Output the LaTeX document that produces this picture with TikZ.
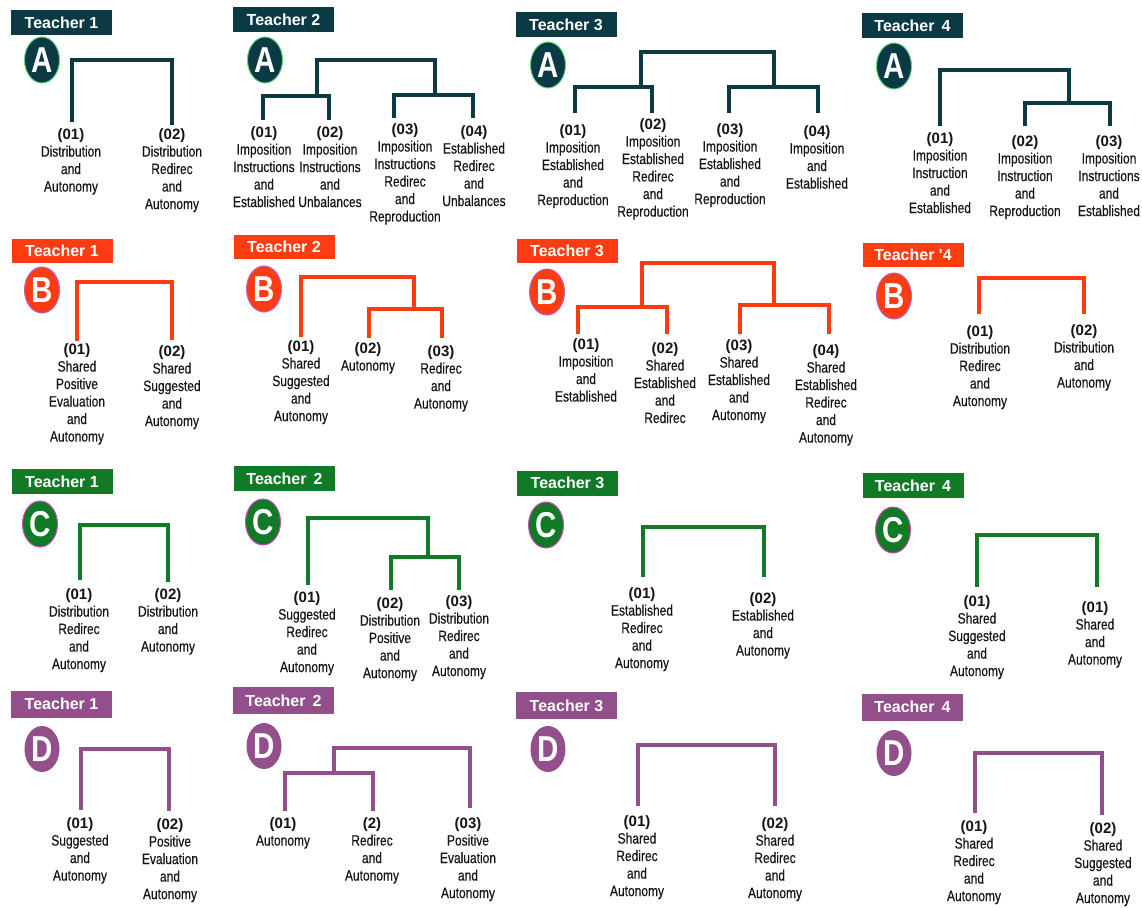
\documentclass[tikz,border=0pt]{standalone}
\usepackage{fontspec}
\setmainfont{Liberation Sans}
\newfontfamily\narrowfam[FakeStretch=0.8,FakeBold=0.35]{Liberation Sans}
\newfontfamily\badgefam[FakeStretch=0.82]{Liberation Sans}
\usetikzlibrary{shapes.geometric}
\definecolor{cA}{HTML}{0B3944}
\definecolor{cB}{HTML}{FF3B12}
\definecolor{cC}{HTML}{117A27}
\definecolor{cD}{HTML}{924F8B}
\definecolor{oA}{HTML}{5FD37A}
\definecolor{oB}{HTML}{B860C8}
\definecolor{oC}{HTML}{D048C0}
\definecolor{txt}{HTML}{151515}
\newcommand\mkleaf[5]{\node[leaf] (#1) at (#2,#3) {{\normalfont\bfseries #4}\\#5};}
\begin{document}
\begin{tikzpicture}[x=1pt,y=-1pt,
  tlabel/.style={rectangle, fill=#1, text=white, inner sep=0pt,
    minimum width=101pt, minimum height=25pt,
    font=\bfseries\fontsize{16}{16}\selectfont},
  badge/.style={ellipse, fill=#1, inner sep=0pt, minimum width=35pt, minimum height=46pt,
    text=white, font=\badgefam\bfseries\fontsize{36}{36}\selectfont},
  leaf/.style={anchor=north, align=center, inner sep=0pt, text=txt,
    font=\narrowfam\fontsize{15}{17.5}\selectfont},
  tA/.style={draw=cA, line width=3.6pt, line join=miter},
  tB/.style={draw=cB, line width=3.1pt, line join=miter},
  tC/.style={draw=cC, line width=3.6pt, line join=miter},
  tD/.style={draw=cD, line width=3.3pt, line join=miter}]
\useasboundingbox (0,0) rectangle (1142,907);
\fill[white] (0,0) rectangle (1142,907);

% ================= ROW A =================
\node[tlabel=cA] (LA1) at (61.5,23) {Teacher 1};
\node[tlabel=cA] (LA2) at (283.5,19.5) {Teacher 2};
\node[tlabel=cA] (LA3) at (566,24.5) {Teacher 3};
\node[tlabel=cA] (LA4) at (912.5,26) {Teacher \,4};
\node[badge=cA, draw=oA, line width=1pt] (BA1) at (42,60) {A};
\node[badge=cA, draw=oA, line width=1pt] (BA2) at (265,60) {A};
\node[badge=cA, draw=oA, line width=1pt] (BA3) at (548,65) {A};
\node[badge=cA, draw=oA, line width=1pt] (BA4) at (894,66) {A};

% T1A
\mkleaf{A1a}{71}{128}{(01)}{Distribution\\and\\Autonomy}
\mkleaf{A1b}{172}{128}{(02)}{Distribution\\Redirec\\and\\Autonomy}
\coordinate (A1e1) at (72,122); \coordinate (A1e2) at (172,125);
\coordinate (A1t) at (122,60);
\draw[tA] (A1e1) |- (A1t) -| (A1e2);

% T2A
\mkleaf{A2a}{264}{126}{(01)}{Imposition\\Instructions\\and\\Established}
\mkleaf{A2b}{330}{126}{(02)}{Imposition\\Instructions\\and\\Unbalances}
\mkleaf{A2c}{405}{123}{(03)}{Imposition\\Instructions\\Redirec\\and\\Reproduction}
\mkleaf{A2d}{474}{125}{(04)}{Established\\Redirec\\and\\Unbalances}
\coordinate (A2e1) at (263,120); \coordinate (A2e2) at (329,120);
\coordinate (A2e3) at (394,118); \coordinate (A2e4) at (473,118);
\coordinate (A2s1) at (317,96); \coordinate (A2s2) at (435,95);
\coordinate (A2t) at (376,60);
\draw[tA] (A2e1) |- (A2s1) -| (A2e2);
\draw[tA] (A2e3) |- (A2s2) -| (A2e4);
\draw[tA] (A2s1) |- (A2t) -| (A2s2);

% T3A
\mkleaf{A3a}{573}{124}{(01)}{Imposition\\Established\\and\\Reproduction}
\mkleaf{A3b}{653}{118}{(02)}{Imposition\\Established\\Redirec\\and\\Reproduction}
\mkleaf{A3c}{730}{123}{(03)}{Imposition\\Established\\and\\Reproduction}
\mkleaf{A3d}{817}{125}{(04)}{Imposition\\and\\Established}
\coordinate (A3e1) at (575,113); \coordinate (A3e2) at (652,113);
\coordinate (A3e3) at (729,113); \coordinate (A3e4) at (818,113);
\coordinate (A3s1) at (641,87); \coordinate (A3s2) at (774,87);
\coordinate (A3t) at (707,52);
\draw[tA] (A3e1) |- (A3s1) -| (A3e2);
\draw[tA] (A3e3) |- (A3s2) -| (A3e4);
\draw[tA] (A3s1) |- (A3t) -| (A3s2);

% T4A
\mkleaf{A4a}{940}{132}{(01)}{Imposition\\Instruction\\and\\Established}
\mkleaf{A4b}{1025}{135}{(02)}{Imposition\\Instruction\\and\\Reproduction}
\mkleaf{A4c}{1109}{135}{(03)}{Imposition\\Instructions\\and\\Established}
\coordinate (A4e1) at (940,126); \coordinate (A4e2) at (1025,126);
\coordinate (A4e3) at (1110,126);
\coordinate (A4s) at (1069,103); \coordinate (A4t) at (1005,70);
\draw[tA] (A4e2) |- (A4s) -| (A4e3);
\draw[tA] (A4e1) |- (A4t) -| (A4s);

% ================= ROW B =================
\node[tlabel=cB, minimum height=24pt] (LB1) at (62,250.5) {Teacher 1};
\node[tlabel=cB, minimum height=24pt] (LB2) at (284,246.5) {Teacher 2};
\node[tlabel=cB, minimum height=24pt] (LB3) at (567,250.5) {Teacher 3};
\node[tlabel=cB, minimum height=24pt] (LB4) at (913,254.5) {Teacher \textquotesingle4};
\node[badge=cB, draw=oB, line width=1pt] (BB1) at (42,290) {B};
\node[badge=cB, draw=oB, line width=1pt] (BB2) at (264,289) {B};
\node[badge=cB, draw=oB, line width=1pt] (BB3) at (547,292) {B};
\node[badge=cB, draw=oB, line width=1pt] (BB4) at (894,296) {B};

% T1B
\mkleaf{B1a}{77}{343}{(01)}{Shared\\Positive\\Evaluation\\and\\Autonomy}
\mkleaf{B1b}{172}{345}{(02)}{Shared\\Suggested\\and\\Autonomy}
\coordinate (B1e1) at (77,341); \coordinate (B1e2) at (172,340);
\coordinate (B1t) at (125,282);
\draw[tB] (B1e1) |- (B1t) -| (B1e2);

% T2B
\mkleaf{B2a}{301}{340}{(01)}{Shared\\Suggested\\and\\Autonomy}
\mkleaf{B2b}{368}{342}{(02)}{Autonomy}
\mkleaf{B2c}{441}{345}{(03)}{Redirec\\and\\Autonomy}
\coordinate (B2e1) at (301,337); \coordinate (B2e2) at (369,338);
\coordinate (B2e3) at (442,338);
\coordinate (B2s) at (414,309); \coordinate (B2t) at (358,277);
\draw[tB] (B2e2) |- (B2s) -| (B2e3);
\draw[tB] (B2e1) |- (B2t) -| (B2s);

% T3B
\mkleaf{B3a}{586}{338}{(01)}{Imposition\\and\\Established}
\mkleaf{B3b}{665}{342}{(02)}{Shared\\Established\\and\\Redirec}
\mkleaf{B3c}{739}{339}{(03)}{Shared\\Established\\and\\Autonomy}
\mkleaf{B3d}{826}{344}{(04)}{Shared\\Established\\Redirec\\and\\Autonomy}
\coordinate (B3e1) at (578,334); \coordinate (B3e2) at (667,334);
\coordinate (B3e3) at (740,334); \coordinate (B3e4) at (829,334);
\coordinate (B3s1) at (642,307); \coordinate (B3s2) at (774,305);
\coordinate (B3t) at (708,263);
\draw[tB] (B3e1) |- (B3s1) -| (B3e2);
\draw[tB] (B3e3) |- (B3s2) -| (B3e4);
\draw[tB, line width=4pt] (B3s1) |- (B3t) -| (B3s2);

% T4B
\mkleaf{B4a}{980}{325}{(01)}{Distribution\\Redirec\\and\\Autonomy}
\mkleaf{B4b}{1084}{324}{(02)}{Distribution\\and\\Autonomy}
\coordinate (B4e1) at (979,314); \coordinate (B4e2) at (1084,314);
\coordinate (B4t) at (1031,278);
\draw[tB] (B4e1) |- (B4t) -| (B4e2);

% ================= ROW C =================
\node[tlabel=cC] (LC1) at (62,481.5) {Teacher 1};
\node[tlabel=cC] (LC2) at (284.5,478.5) {Teacher \,2};
\node[tlabel=cC] (LC3) at (567.5,483) {Teacher 3};
\node[tlabel=cC] (LC4) at (913,485.5) {Teacher \,4};
\node[badge=cC, draw=oC, line width=1pt] (BC1) at (40,524) {C};
\node[badge=cC, draw=oC, line width=1pt] (BC2) at (263,522) {C};
\node[badge=cC, draw=oC, line width=1pt] (BC3) at (546,525) {C};
\node[badge=cC, draw=oC, line width=1pt] (BC4) at (893,530) {C};

% T1C
\mkleaf{C1a}{79}{588}{(01)}{Distribution\\Redirec\\and\\Autonomy}
\mkleaf{C1b}{168}{588}{(02)}{Distribution\\and\\Autonomy}
\coordinate (C1e1) at (80,580); \coordinate (C1e2) at (168,582);
\coordinate (C1t) at (124,525);
\draw[tC] (C1e1) |- (C1t) -| (C1e2);

% T2C
\mkleaf{C2a}{307}{591}{(01)}{Suggested\\Redirec\\and\\Autonomy}
\mkleaf{C2b}{390}{597}{(02)}{Distribution\\Positive\\and\\Autonomy}
\mkleaf{C2c}{459}{595}{(03)}{Distribution\\Redirec\\and\\Autonomy}
\coordinate (C2e1) at (308,585); \coordinate (C2e2) at (391,590);
\coordinate (C2e3) at (459,590);
\coordinate (C2s) at (428,557); \coordinate (C2t) at (368,518);
\draw[tC] (C2e2) |- (C2s) -| (C2e3);
\draw[tC] (C2e1) |- (C2t) -| (C2s);

% T3C
\mkleaf{C3a}{642}{587}{(01)}{Established\\Redirec\\and\\Autonomy}
\mkleaf{C3b}{763}{592}{(02)}{Established\\and\\Autonomy}
\coordinate (C3e1) at (643,577); \coordinate (C3e2) at (764,577);
\coordinate (C3t) at (703,527);
\draw[tC] (C3e1) |- (C3t) -| (C3e2);

% T4C
\mkleaf{C4a}{977}{595}{(01)}{Shared\\Suggested\\and\\Autonomy}
\mkleaf{C4b}{1095}{601}{(01)}{Shared\\and\\Autonomy}
\coordinate (C4e1) at (977,587); \coordinate (C4e2) at (1097,587);
\coordinate (C4t) at (1037,535);
\draw[tC] (C4e1) |- (C4t) -| (C4e2);

% ================= ROW D =================
\node[tlabel=cD, minimum height=27pt] (LD1) at (61.5,704) {Teacher 1};
\node[tlabel=cD, minimum height=27pt] (LD2) at (283.5,700.5) {Teacher \,2};
\node[tlabel=cD, minimum height=27pt] (LD3) at (566.5,705.5) {Teacher 3};
\node[tlabel=cD, minimum height=27pt] (LD4) at (912.5,707) {Teacher \,4};
\node[badge=cD] (BD1) at (42,749) {D};
\node[badge=cD] (BD2) at (264,746) {D};
\node[badge=cD] (BD3) at (548,749) {D};
\node[badge=cD] (BD4) at (894,753) {D};

% T1D
\mkleaf{D1a}{80}{817}{(01)}{Suggested\\and\\Autonomy}
\mkleaf{D1b}{170}{818}{(02)}{Positive\\Evaluation\\and\\Autonomy}
\coordinate (D1e1) at (81,810); \coordinate (D1e2) at (169,811);
\coordinate (D1t) at (125,749);
\draw[tD] (D1e1) |- (D1t) -| (D1e2);

% T2D
\mkleaf{D2a}{283}{817}{(01)}{Autonomy}
\mkleaf{D2b}{372}{817}{(2)}{Redirec\\and\\Autonomy}
\mkleaf{D2c}{468}{817}{(03)}{Positive\\Evaluation\\and\\Autonomy}
\coordinate (D2e1) at (285,811); \coordinate (D2e2) at (373,811);
\coordinate (D2e3) at (470,808);
\coordinate (D2s) at (334,773); \coordinate (D2t) at (402,748);
\draw[tD] (D2e1) |- (D2s) -| (D2e2);
\draw[tD] (D2s) |- (D2t) -| (D2e3);

% T3D
\mkleaf{D3a}{637}{815}{(01)}{Shared\\Redirec\\and\\Autonomy}
\mkleaf{D3b}{775}{817}{(02)}{Shared\\Redirec\\and\\Autonomy}
\coordinate (D3e1) at (638,806); \coordinate (D3e2) at (775,806);
\coordinate (D3t) at (706,745);
\draw[tD] (D3e1) |- (D3t) -| (D3e2);

% T4D
\mkleaf{D4a}{974}{820}{(01)}{Shared\\Redirec\\and\\Autonomy}
\mkleaf{D4b}{1103}{822}{(02)}{Shared\\Suggested\\and\\Autonomy}
\coordinate (D4e1) at (975,813); \coordinate (D4e2) at (1102,815);
\coordinate (D4t) at (1038,753);
\draw[tD] (D4e1) |- (D4t) -| (D4e2);
\end{tikzpicture}
\end{document}
